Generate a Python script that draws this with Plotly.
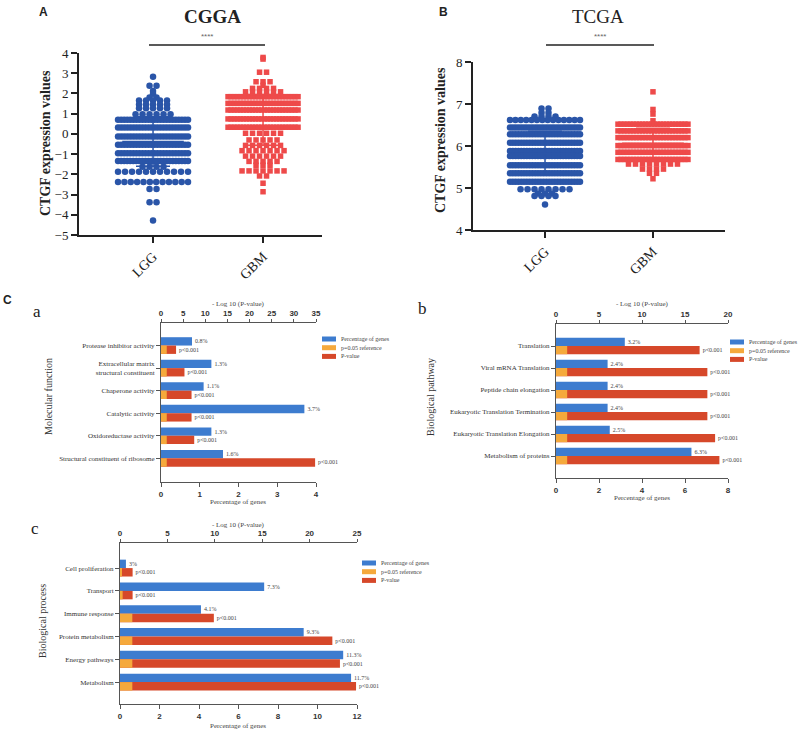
import plotly.graph_objects as go

W, H = 800, 735
SERIF = "Liberation Serif"
SANS = "Liberation Sans"
DOT_BLUE = "#2a55a8"
DOT_RED = "#ee4a4a"
BLUE = "#3d7ccf"
ORANGE = "#f5a93c"
RED = "#d6482a"

# ---------------- scatter dot plots: value levels and number of samples at each level
cgga_lgg_val = [2.83, 2.38, 2.12, 1.98, 1.80, 1.65, 1.45, 1.27, 0.97, 0.70, 0.31, -0.13,
                -0.54, -0.96, -1.34, -1.62, -1.87, -2.38, -2.72, -3.38, -4.28]
cgga_lgg_n = [1, 2, 1, 1, 2, 5, 5, 5, 6, 24, 24, 24, 24, 24, 24, 4, 11, 12, 2, 2, 1]

cgga_gbm_val = [3.78, 3.70, 3.05, 2.58, 2.40, 2.25, 2.08, 1.84, 1.51, 1.18, 0.74, 0.33,
                0.03, -0.30, -0.57, -0.83, -1.10, -1.36, -1.55, -1.83, -2.08, -2.44, -2.86]
cgga_gbm_n = [1, 1, 2, 3, 1, 4, 6, 24, 24, 24, 24, 24, 6, 5, 6, 7, 6, 5, 3, 7, 2, 1, 1]

tcga_lgg_val = [6.89, 6.79, 6.70, 6.62, 6.44, 6.28, 6.08, 5.88, 5.76, 5.54, 5.35, 5.15,
                4.97, 4.87, 4.81, 4.61]
tcga_lgg_n = [2, 2, 4, 14, 26, 26, 26, 26, 26, 26, 26, 26, 8, 3, 4, 1]

tcga_gbm_val = [7.29, 6.87, 6.76, 6.60, 6.52, 6.36, 6.20, 6.01, 5.85, 5.68, 5.57, 5.45,
                5.35, 5.22]
tcga_gbm_n = [1, 1, 1, 1, 24, 24, 24, 24, 24, 24, 8, 4, 2, 1]

groups = ["LGG", "GBM"]

# ---------------- enrichment bar charts
mf_terms = ["Protease inhibitor activity", "Extracellular matrix<br>structural constituent",
            "Chaperone activity", "Catalytic activity", "Oxidoreductase activity",
            "Structural constituent of ribosome"]
mf_pct = [0.8, 1.3, 1.1, 3.7, 1.3, 1.6]
mf_pct_lab = ["0.8%", "1.3%", "1.1%", "3.7%", "1.3%", "1.6%"]
mf_logp = [3.4, 5.3, 6.9, 6.9, 7.5, 34.8]
mf_ref = [1.3, 1.3, 1.3, 1.3, 1.3, 1.3]

bpw_terms = ["Translation", "Viral mRNA Translation", "Peptide chain elongation",
             "Eukaryotic Translation Termination", "Eukaryotic Translation Elongation",
             "Metabolism of proteins"]
bpw_pct = [3.2, 2.4, 2.4, 2.4, 2.5, 6.3]
bpw_pct_lab = ["3.2%", "2.4%", "2.4%", "2.4%", "2.5%", "6.3%"]
bpw_logp = [16.7, 17.6, 17.6, 17.6, 18.5, 19.0]
bpw_ref = [1.3, 1.3, 1.3, 1.3, 1.3, 1.3]

bpr_terms = ["Cell proliferation", "Transport", "Immune response", "Protein metabolism",
             "Energy pathways", "Metabolism"]
bpr_pct = [0.3, 7.3, 4.1, 9.3, 11.3, 11.7]
bpr_pct_lab = ["3%", "7.3%", "4.1%", "9.3%", "11.3%", "11.7%"]
bpr_logp = [1.33, 1.33, 9.9, 22.4, 23.2, 24.9]
bpr_ref = [0.2, 0.28, 1.3, 1.3, 1.3, 1.3]

p_lab = "p<0.001"
legend_names = ["Percentage of genes", "p=0.05 reference", "P-value"]


def px(x):
    return x / W


def py(y):
    return 1 - y / H


def swarm(vals, counts, center, px_per_unit, half=35, gap=7):
    xs, ys = [], []
    for v, n in zip(vals, counts):
        step = gap if n <= 1 else min(gap, 2 * half / (n - 1))
        for i in range(n):
            xs.append(center + (i - (n - 1) / 2) * step / px_per_unit)
            ys.append(v)
    return xs, ys


def mean_sd(vals, counts):
    data = [v for v, n in zip(vals, counts) for _ in range(n)]
    m = sum(data) / len(data)
    sd = (sum((d - m) ** 2 for d in data) / (len(data) - 1)) ** 0.5
    return m, sd


fig = go.Figure()

# dot plots
dot_sets = [
    (cgga_lgg_val, cgga_lgg_n, 0, "x", "y", DOT_BLUE, "circle", 6.5, 110),
    (cgga_gbm_val, cgga_gbm_n, 1, "x", "y", DOT_RED, "square", 5.5, 110),
    (tcga_lgg_val, tcga_lgg_n, 0, "x2", "y2", DOT_BLUE, "circle", 6.5, 108),
    (tcga_gbm_val, tcga_gbm_n, 1, "x2", "y2", DOT_RED, "square", 5.5, 108),
]
for vals, counts, c, xa, ya, col, sym, sz, ppu in dot_sets:
    xs, ys = swarm(vals, counts, c, ppu)
    fig.add_trace(go.Scatter(x=xs, y=ys, mode="markers", xaxis=xa, yaxis=ya,
                             marker=dict(color=col, symbol=sym, size=sz),
                             showlegend=False, hoverinfo="skip"))
    m, sd = mean_sd(vals, counts)
    fig.add_trace(go.Scatter(x=[c], y=[m], mode="markers", xaxis=xa, yaxis=ya,
                             marker=dict(symbol="line-ew", size=44, color=col,
                                         line=dict(color=col, width=1.5)),
                             error_y=dict(type="data", array=[sd], color=col,
                                          thickness=1.5, width=17),
                             showlegend=False, hoverinfo="skip"))

# bar panels
bar_sets = [
    (mf_terms, mf_pct, mf_pct_lab, mf_logp, mf_ref, "x3", "x4", "y3"),
    (bpw_terms, bpw_pct, bpw_pct_lab, bpw_logp, bpw_ref, "x5", "x6", "y4"),
    (bpr_terms, bpr_pct, bpr_pct_lab, bpr_logp, bpr_ref, "x7", "x8", "y5"),
]
BW = 0.37
lab_font = dict(family=SERIF, size=6, color="#444")
for terms, pct, pct_lab, logp, ref, xb, xt, ya in bar_sets:
    fig.add_trace(go.Bar(y=terms, x=pct, orientation="h", xaxis=xb, yaxis=ya,
                         width=BW, offset=-BW, marker=dict(color=BLUE, line_width=0),
                         text=pct_lab, textposition="outside", textfont=lab_font,
                         constraintext="none", cliponaxis=False, showlegend=False))
    fig.add_trace(go.Bar(y=terms, x=logp, orientation="h", xaxis=xt, yaxis=ya,
                         width=BW, offset=0, marker=dict(color=RED, line_width=0),
                         text=[p_lab] * len(terms), textposition="outside",
                         textfont=lab_font, constraintext="none", cliponaxis=False,
                         showlegend=False))
    fig.add_trace(go.Bar(y=terms, x=ref, orientation="h", xaxis=xt, yaxis=ya,
                         width=BW, offset=0, marker=dict(color=ORANGE, line_width=0),
                         showlegend=False))

# ---------------- axes
dot_x = dict(tickvals=[0, 1], ticktext=groups, tickangle=-45, ticks="outside", ticklen=6,
             tickwidth=2, showline=True, linewidth=2, linecolor="#222", tickcolor="#222",
             showgrid=False, zeroline=False, automargin=False,
             tickfont=dict(family=SERIF, size=14, color="#222"))
dot_y = dict(ticks="outside", ticklen=6, tickwidth=2, dtick=1, showline=True, linewidth=2,
             linecolor="#222", tickcolor="#222", showgrid=False, zeroline=False,
             automargin=False, tickfont=dict(family=SERIF, size=13, color="#222"))

fig.update_layout(
    xaxis=dict(dot_x, domain=[px(79), px(322)], range=[-0.673, 1.536], anchor="y"),
    yaxis=dict(dot_y, domain=[py(235), py(53)], range=[-5, 4], anchor="x"),
    xaxis2=dict(dot_x, domain=[px(473), px(725)], range=[-0.667, 1.667], anchor="y2"),
    yaxis2=dict(dot_y, domain=[py(230), py(62)], range=[4, 8], anchor="x2"),
)

num_font = dict(family=SANS, size=8, color="#333", weight="bold")
bar_x = dict(ticks="outside", ticklen=4, showline=True, linewidth=1, linecolor="#555",
             tickcolor="#555", showgrid=False, zeroline=False, automargin=False,
             tickfont=num_font)
bar_y = dict(type="category", categoryorder="array", ticks="outside", ticklen=4,
             showline=True, linewidth=1, linecolor="#555", tickcolor="#555",
             showgrid=False, zeroline=False, automargin=False,
             tickfont=dict(family=SERIF, size=7, color="#333"))

panels = [
    # bottom, top, y, terms, x dom, y dom, bottom range, dtick, top range, dtick, y range
    ("xaxis3", "xaxis4", "yaxis3", "x3", "y3", mf_terms, (161, 316), (323, 482), 4, 1, 35, 5, [6.05, -1.0]),
    ("xaxis5", "xaxis6", "yaxis4", "x5", "y4", bpw_terms, (556, 728), (324, 478), 8, 2, 20, 5, [6.0, -1.0]),
    ("xaxis7", "xaxis8", "yaxis5", "x7", "y5", bpr_terms, (120, 357), (543, 704), 12, 2, 25, 5, [5.96, -1.1]),
]
for xb, xt, yk, xref, yref, terms, xd, yd, br, bd, tr, td, yr in panels:
    fig.update_layout({
        xb: dict(bar_x, domain=[px(xd[0]), px(xd[1])], range=[0, br], dtick=bd, anchor=yref),
        xt: dict(bar_x, overlaying=xref, side="top", range=[0, tr], dtick=td, anchor=yref,
                 ticklen=3),
        yk: dict(bar_y, domain=[py(yd[1]), py(yd[0])], categoryarray=terms, range=yr,
                 anchor=xref),
    })

# ---------------- text
ann = []


def note(text, x, y, size, family=SERIF, color="#222", angle=0, bold=False, xanchor="center"):
    ann.append(dict(text=text, x=px(x), y=py(y), xref="paper", yref="paper",
                    showarrow=False, textangle=angle, xanchor=xanchor, yanchor="middle",
                    font=dict(family=family, size=size, color=color,
                              weight="bold" if bold else "normal")))


note("A", 43, 12, 12, SANS, bold=True)
note("B", 443, 12, 12, SANS, bold=True)
note("C", 7, 300, 12, SANS, bold=True)
note("a", 37, 311, 17)
note("b", 422, 309, 17)
note("c", 35, 528, 17)
note("CGGA", 212, 16, 19, bold=True)
note("TCGA", 598, 16, 19)
note("****", 207, 36, 8, SANS, color="#666")
note("****", 600, 36, 8, SANS, color="#666")
note("CTGF expression values", 45, 143, 14, bold=True, angle=-90)
note("CTGF expression values", 440, 140, 14, bold=True, angle=-90)

note("- Log 10 (P-value)", 238, 304, 7, color="#444")
note("- Log 10 (P-value)", 642, 304, 7, color="#444")
note("- Log 10 (P-value)", 238, 525, 7, color="#444")
note("Percentage of genes", 238, 502, 7, color="#444")
note("Percentage of genes", 642, 498, 7, color="#444")
note("Percentage of genes", 238, 726, 7, color="#444")
note("Molecular function", 48, 397, 10, color="#333", angle=-90)
note("Biological pathway", 430, 397, 10, color="#333", angle=-90)
note("Biological process", 42, 621, 10, color="#333", angle=-90)

shapes = [
    dict(type="line", xref="paper", yref="paper", x0=px(149), x1=px(265), y0=py(45), y1=py(45),
         line=dict(color="#222", width=1.5)),
    dict(type="line", xref="paper", yref="paper", x0=px(546), x1=px(654), y0=py(45), y1=py(45),
         line=dict(color="#222", width=1.5)),
]

# manual legends
for lx, ly in [(322, 339), (730, 342), (362, 563)]:
    for i, (name, col) in enumerate(zip(legend_names, [BLUE, ORANGE, RED])):
        yy = ly + i * 8.7
        shapes.append(dict(type="rect", xref="paper", yref="paper", x0=px(lx), x1=px(lx + 14),
                           y0=py(yy + 2.5), y1=py(yy - 2.5), line_width=0, fillcolor=col))
        note(name, lx + 17, yy, 6, color="#444", xanchor="left")

fig.update_layout(
    width=W, height=H, margin=dict(l=0, r=0, t=0, b=0),
    plot_bgcolor="white", paper_bgcolor="white",
    barmode="overlay", showlegend=False, hovermode=False,
    annotations=ann, shapes=shapes,
)

fig.write_html("out.html", config={"displayModeBar": False},
               post_script="document.body.style.margin='0';")
